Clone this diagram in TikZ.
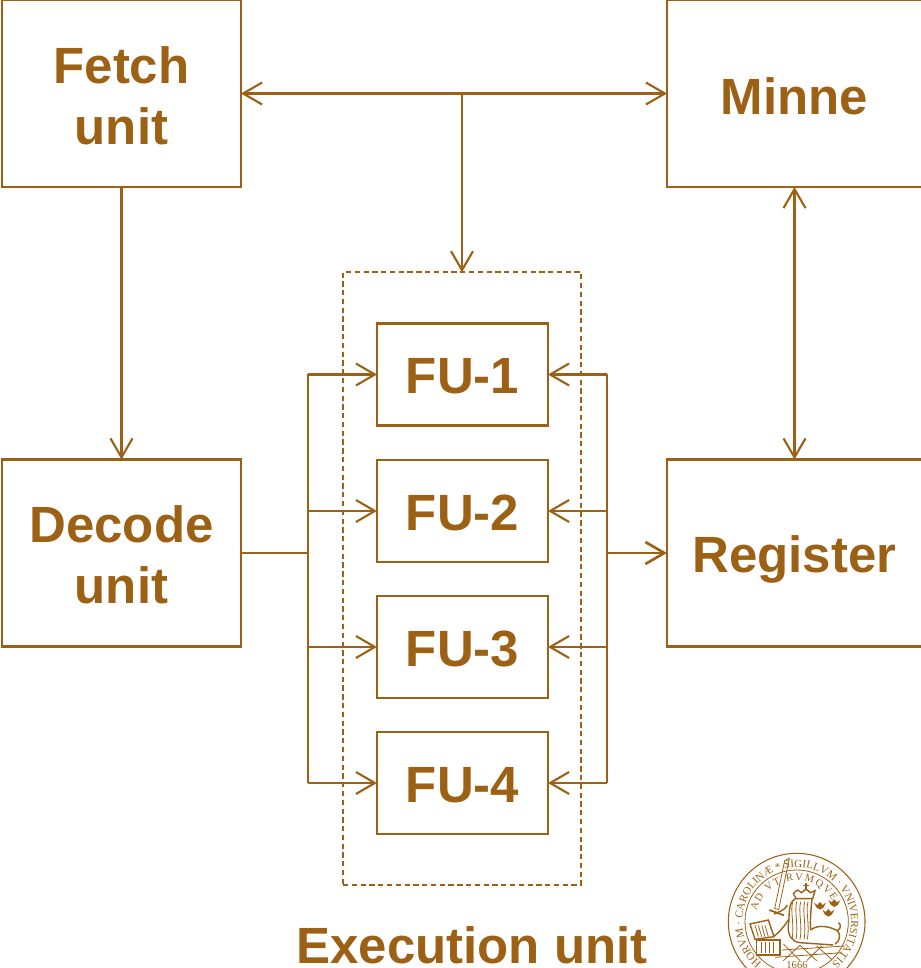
\documentclass[tikz,border=0pt]{standalone}
\usepackage{fontspec}
\setmainfont{Liberation Sans}
\newfontfamily\sealfont{Liberation Serif}
\usepackage{xcolor}
\usetikzlibrary{arrows.meta,decorations.text}
\definecolor{lubrown}{HTML}{9C6114}
\newcommand{\lowered}[2]{\raisebox{-#1}[\height][\depth]{#2}}

\begin{document}
\begin{tikzpicture}[
  font=\fontsize{29}{34.7}\selectfont\bfseries,
  color=lubrown,
  line width=1.2pt,
  unitbox/.style={draw=lubrown, text=lubrown, align=center, minimum width=4.78cm, minimum height=3.74cm, inner sep=0pt},
  fubox/.style={unitbox, minimum width=3.42cm, minimum height=2.04cm},
  execbox/.style={draw=lubrown, densely dashed, line width=0.9pt, minimum width=4.76cm, minimum height=12.26cm, inner sep=0pt},
  arr/.style={-{Straight Barb[length=3.8mm, width=4.4mm]}, draw=lubrown, shorten >=-0.6pt},
  biarr/.style={{Straight Barb[length=3.8mm, width=4.4mm]}-{Straight Barb[length=3.8mm, width=4.4mm]}, draw=lubrown, shorten >=-0.6pt, shorten <=-0.6pt},
  busline/.style={draw=lubrown},
  thickbus/.style={draw=lubrown, line width=1.5pt},
  sealline/.style={draw=lubrown, line width=0.45pt},
  sealheavy/.style={sealline, line width=0.8pt},
  sealfill/.style={fill=lubrown, draw=none},
]
\useasboundingbox (0,0) rectangle (18.42,19.36);
\node[unitbox] (fetch) at (2.43, 17.49) {\lowered{1.4pt}{Fetch}\\\lowered{1.4pt}{unit}};
\node[unitbox, minimum width=5.1cm] (minne) at (15.89, 17.49) {\lowered{1.7pt}{Minne}};
\node[unitbox] (decode) at (2.43, 8.30) {\lowered{1.2pt}{Decode}\\\lowered{1.2pt}{unit}};
\node[unitbox, minimum width=5.1cm] (register) at (15.89, 8.30) {\lowered{3.4pt}{Register}};
\node[execbox] (exec) at (9.24, 7.79) {};
\node[fubox] (fu1) at (9.25, 11.87) {\lowered{1.1pt}{FU-1}};
\node[fubox] (fu2) at (9.25, 9.14) {\lowered{1.1pt}{FU-2}};
\node[fubox] (fu3) at (9.25, 6.42) {\lowered{1.1pt}{FU-3}};
\node[fubox] (fu4) at (9.25, 3.70) {\lowered{1.1pt}{FU-4}};
\node[text=lubrown] (execlabel) at (9.44, 0.46) {Execution unit};
\coordinate (lbus) at (6.16, 8.30);
\coordinate (rbus) at (12.14, 8.30);
% buses
\draw[biarr] (fetch.east) -- (minne.west);
\draw[arr] (exec.north |- fetch.east) -- (exec.north);
\draw[arr] (fetch.south) -- (decode.north);
\draw[biarr] (minne.south) -- (register.north);
\draw[thickbus] (decode.east) -- (lbus);
\draw[thickbus, arr] (rbus) -- (register.west);
\draw[busline] (lbus |- fu1.west) -- (lbus |- fu4.west);
\draw[busline] (rbus |- fu1.east) -- (rbus |- fu4.east);
\foreach \fu in {fu1,fu2,fu3,fu4} {
  \draw[arr] (lbus |- \fu.west) -- (\fu.west);
  \draw[arr] (rbus |- \fu.east) -- (\fu.east);
}
% seal lettering
\begin{scope}[shift={(15.933,0.927)}, x=0.00667cm, y=0.00667cm]
\path[postaction={decorate, decoration={text along path, text align=center,
  text={|\sealfont\fontsize{6.3}{7}\selectfont\mdseries\color{lubrown}|HORVM · CAROLINÆ * SIGILLVM · VNIVERSITATIS}}}]
  (228:163) arc [start angle=228, end angle=-48, radius=163];
\path[postaction={decorate, decoration={text along path, text align=fit to path,
  text={|\sealfont\fontsize{6}{7}\selectfont\mdseries\color{lubrown}|AD VT RVMQVE}}}]
  (165:124) arc [start angle=165, end angle=30, radius=124];
\end{scope}
% seal drawing
\begin{scope}[shift={(14.00,2.56)}, x=0.00667cm, y=-0.00667cm]
\draw[sealline, line width=0.6pt] (290,245) circle [radius=205];
\draw[sealline] (290,245) circle [radius=155];
% sword
\draw[sealline] (268,55) -- (254,62) -- (224,206) -- (236,208) -- cycle;
\draw[sealline, line width=1pt] (208,210) -- (252,226);
% crowns
\foreach \cx/\cy in {360/197,403/189,385/218} {
  \fill[sealfill] (\cx-18,\cy-9) -- (\cx-8,\cy-2) -- (\cx,\cy-11) -- (\cx+8,\cy-2) -- (\cx+18,\cy-9) -- (\cx+11,\cy+5) -- (\cx,\cy+12) -- (\cx-11,\cy+5) -- cycle;
}
% lion
\fill[sealfill] (316,128) rectangle (321,150);
\fill[sealfill] (310,135) rectangle (327,139);
\draw[sealheavy] (280,160) -- (292,150) -- (305,158) -- (318,147) -- (331,158) -- (345,152) -- (338,176) -- (288,176) -- cycle;
\draw[sealheavy] (286,176) .. controls (262,190) and (270,225) .. (265,255) .. controls (262,285) and (275,305) .. (300,308);
\draw[sealheavy] (336,176) .. controls (332,215) and (330,245) .. (332,270);
\foreach \mx in {278,290,302,314,324}
  \draw[sealline] (\mx,185) .. controls (\mx-8,215) and (\mx+6,255) .. (\mx-2,298);
\draw[sealheavy] (332,270) .. controls (355,250) and (395,262) .. (412,272) .. controls (425,285) and (418,305) .. (405,312);
\draw[sealheavy] (300,308) -- (400,315);
\draw[sealheavy] (262,195) .. controls (250,215) and (235,215) .. (222,222);
\draw[sealheavy] (265,240) .. controls (250,262) and (235,280) .. (220,290);
\draw[sealheavy] (412,272) .. controls (425,265) and (422,250) .. (415,248);
% book and chest
\draw[sealheavy] (150,252) -- (205,240) -- (222,290) -- (165,298) -- cycle;
\foreach \bx in {165,175,185,195} \draw[sealline] (\bx,256) -- (\bx+10,290);
\draw[sealheavy] (170,300) rectangle (240,345);
\foreach \bx in {185,197,209,221} \draw[sealline] (\bx,306) -- (\bx,340);
% floor
\draw[sealline] (245,330) -- (435,318);
\draw[sealline] (225,352) -- (425,338);
\draw[sealline] (250,312) -- (300,362);
\draw[sealline] (300,316) -- (350,362);
\draw[sealline] (350,318) -- (395,358);
\draw[sealline] (250,362) -- (300,316);
\draw[sealline] (320,362) -- (365,318);
\node[font=\sealfont\fontsize{6}{7}\selectfont\mdseries, text=lubrown, inner sep=0pt] (year) at (291,376) {1666};
\end{scope}
\end{tikzpicture}
\end{document}
